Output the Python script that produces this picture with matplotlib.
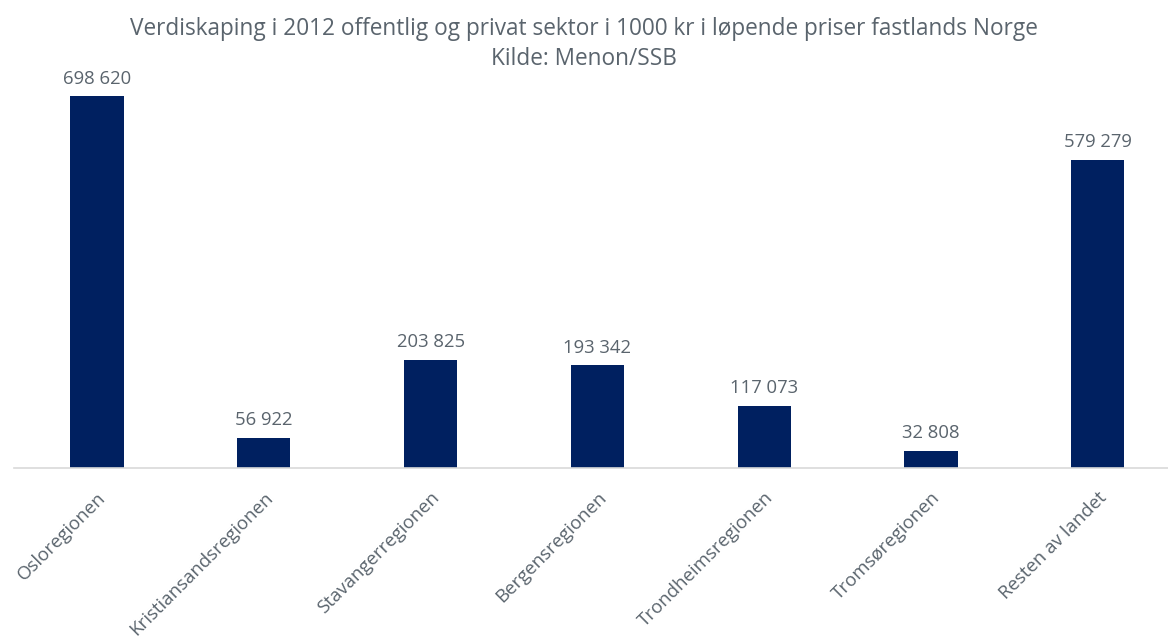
import matplotlib
matplotlib.use("Agg")
import matplotlib.pyplot as plt

categories = ["Osloregionen", "Kristiansandsregionen", "Stavangerregionen",
              "Bergensregionen", "Trondheimsregionen", "Tromsøregionen", "Resten av landet"]
values = [698620, 56922, 203825, 193342, 117073, 32808, 579279]

plt.rcParams['font.family'] = ['Open Sans', 'DejaVu Sans']
txt = '#5a646d'
bar_color = '#002060'

W, H = 1168, 637
fig = plt.figure(figsize=(W/100, H/100), dpi=100)
ax = fig.add_axes([13.6/W, 169/H, 1167.6/W, 425.6/H])
x = list(range(len(categories)))
ax.bar(x, values, width=0.32, color=bar_color, zorder=2)
ax.set_xlim(-0.5, len(categories) - 0.5)
ax.set_ylim(0, 800000)
for xi, v in zip(x, values):
    ax.annotate(f"{v:,}".replace(",", " "), (xi, v), xytext=(0, 6), textcoords='offset points',
                ha='center', va='bottom', fontsize=13.3, color=txt)
ax.set_xticks(x)
ax.set_xticklabels(categories, rotation=45, ha='right', va='top', rotation_mode='anchor',
                   fontsize=13.4, color=txt)
ax.tick_params(axis='x', length=0, pad=15)
ax.set_yticks([])
for s in ['top', 'right', 'left']:
    ax.spines[s].set_visible(False)
ax.spines['bottom'].set_color('#d9d9d9')
ax.spines['bottom'].set_linewidth(1.2)
fig.text(584/W, 1 - 44/H, "Verdiskaping i 2012 offentlig og privat sektor i 1000 kr i løpende priser fastlands Norge\nKilde: Menon/SSB",
         ha='center', va='center', fontsize=16.3, color=txt, linespacing=1.35)
fig.savefig("out.png", dpi=100)
